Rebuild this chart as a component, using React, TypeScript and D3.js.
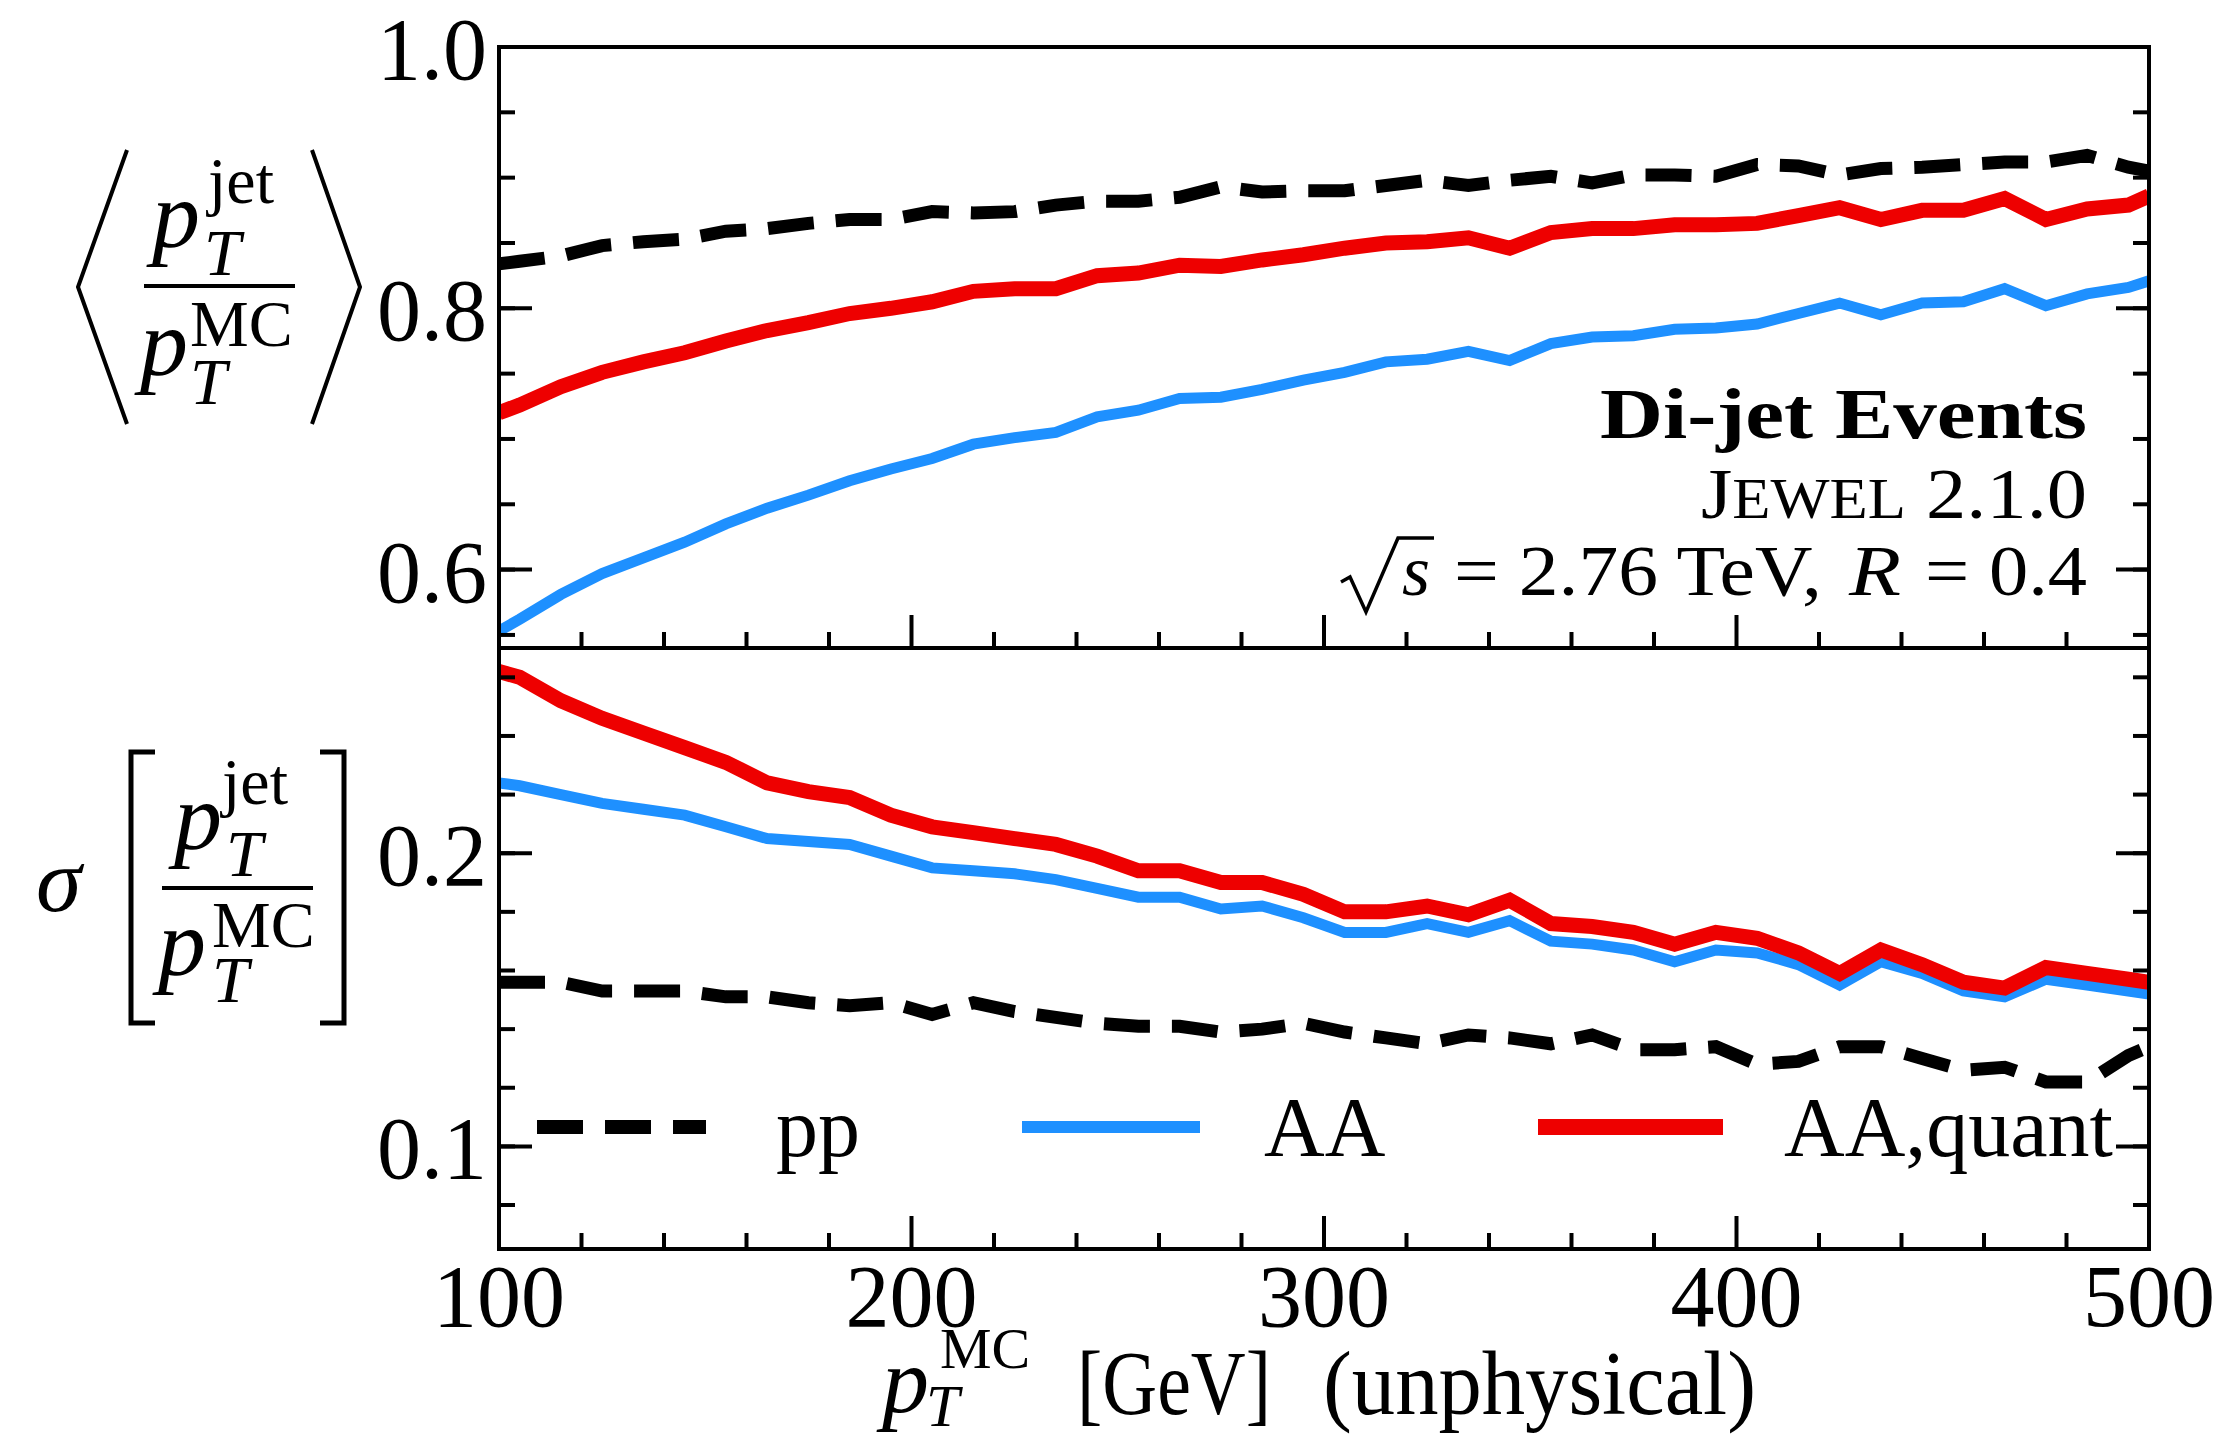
import React from "react";
import * as d3 from "d3";

// bin centres in p_T^MC (GeV); first and last entries are where the lines meet the frame
const ptMC = [
  100, 105, 115, 125, 135, 145, 155, 165, 175, 185, 195, 205, 215, 225, 235,
  245, 255, 265, 275, 285, 295, 305, 315, 325, 335, 345, 355, 365, 375, 385,
  395, 405, 415, 425, 435, 445, 455, 465, 475, 485, 495, 500,
];

// top panel: < pT_jet / pT_MC >
const meanPP = [
  0.834, 0.836, 0.84, 0.848, 0.851, 0.853, 0.859, 0.861, 0.865, 0.868, 0.868,
  0.874, 0.873, 0.874, 0.879, 0.882, 0.882, 0.885, 0.893, 0.889, 0.89, 0.89,
  0.894, 0.898, 0.894, 0.898, 0.901, 0.896, 0.902, 0.902, 0.901, 0.91, 0.909,
  0.902, 0.907, 0.908, 0.91, 0.912, 0.912, 0.917, 0.908, 0.905,
];
const meanAA = [
  0.553, 0.562, 0.581, 0.597, 0.609, 0.621, 0.635, 0.647, 0.657, 0.668, 0.677,
  0.685, 0.696, 0.701, 0.705, 0.717, 0.722, 0.731, 0.732, 0.738, 0.745, 0.751,
  0.759, 0.761, 0.767, 0.76, 0.773, 0.778, 0.779, 0.784, 0.785, 0.788, 0.796,
  0.804, 0.795, 0.804, 0.805, 0.815, 0.802, 0.811, 0.816, 0.821,
];
const meanQuant = [
  0.72, 0.726, 0.74, 0.751, 0.759, 0.766, 0.775, 0.783, 0.789, 0.796, 0.8,
  0.805, 0.813, 0.815, 0.815, 0.825, 0.827, 0.833, 0.832, 0.837, 0.841, 0.846,
  0.85, 0.851, 0.854, 0.846, 0.858, 0.861, 0.861, 0.864, 0.864, 0.865, 0.871,
  0.877, 0.868, 0.875, 0.875, 0.884, 0.868, 0.876, 0.879, 0.886,
];

// bottom panel: sigma[ pT_jet / pT_MC ]
const sigmaPP = [
  0.156, 0.156, 0.156, 0.153, 0.153, 0.153, 0.151, 0.151, 0.149, 0.148, 0.149,
  0.145, 0.149, 0.146, 0.144, 0.142, 0.141, 0.141, 0.139, 0.14, 0.142, 0.139,
  0.137, 0.135, 0.138, 0.137, 0.135, 0.138, 0.133, 0.133, 0.134, 0.128, 0.129,
  0.134, 0.134, 0.13, 0.126, 0.127, 0.122, 0.122, 0.131, 0.134,
];
const sigmaAA = [
  0.224, 0.223, 0.22, 0.217, 0.215, 0.213, 0.209, 0.205, 0.204, 0.203, 0.199,
  0.195, 0.194, 0.193, 0.191, 0.188, 0.185, 0.185, 0.181, 0.182, 0.178, 0.173,
  0.173, 0.176, 0.173, 0.177, 0.17, 0.169, 0.167, 0.163, 0.167, 0.166, 0.162,
  0.155, 0.163, 0.159, 0.153, 0.151, 0.157, 0.155, 0.153, 0.152,
];
const sigmaQuant = [
  0.262, 0.26, 0.252, 0.246, 0.241, 0.236, 0.231, 0.224, 0.221, 0.219, 0.213,
  0.209, 0.207, 0.205, 0.203, 0.199, 0.194, 0.194, 0.19, 0.19, 0.186, 0.18,
  0.18, 0.182, 0.179, 0.184, 0.176, 0.175, 0.173, 0.169, 0.173, 0.171, 0.166,
  0.159, 0.167, 0.162, 0.156, 0.154, 0.161, 0.159, 0.157, 0.156,
];

const xTickValues = [100, 200, 300, 400, 500];
const topTickValues = [0.6, 0.8, 1.0];
const topTickLabels = ["0.6", "0.8", "1.0"];
const bottomTickValues = [0.1, 0.2];
const bottomTickLabels = ["0.1", "0.2"];
const legendLabels = ["pp", "AA", "AA,quant"];

const RED = "#ee0000";
const BLUE = "#1e90ff";
const FONT = "'Liberation Serif', 'DejaVu Serif', serif";

const W = 2223;
const H = 1446;
const left = 499;
const right = 2149;
const top = 47;
const mid = 648;
const bottom = 1249;
const majorLen = 33;
const minorLen = 16;

const x = d3.scaleLinear().domain([100, 500]).range([left, right]);
const yTop = d3.scaleLinear().domain([0.54, 1.0]).range([mid, top]);
const yBot = d3.scaleLinear().domain([0.065, 0.27]).range([bottom, mid]);

const series = [
  { label: legendLabels[0], top: meanPP, bot: sigmaPP, color: "#000", width: 13, dash: "46 22" },
  { label: legendLabels[1], top: meanAA, bot: sigmaAA, color: BLUE, width: 11, dash: undefined },
  { label: legendLabels[2], top: meanQuant, bot: sigmaQuant, color: RED, width: 15, dash: undefined },
];

function Panel({ y, y0, y1, vals, clipId, minor, majors, labels }) {
  const line = d3
    .line<number>()
    .x((_, i) => x(ptMC[i]))
    .y((d) => y(d));
  const xMinor = d3.range(120, 500, 20).filter((v) => v % 100 !== 0);
  return (
    <g>
      <clipPath id={clipId}>
        <rect x={left} y={y0} width={right - left} height={y1 - y0} />
      </clipPath>
      <g clipPath={`url(#${clipId})`}>
        {series.map((s) => (
          <path
            key={s.label}
            d={line(vals(s)) || ""}
            fill="none"
            stroke={s.color}
            strokeWidth={s.width}
            strokeDasharray={s.dash}
          />
        ))}
      </g>
      {/* ticks, all pointing inward */}
      {xMinor.map((v) => (
        <line key={"xm" + v} x1={x(v)} x2={x(v)} y1={y1} y2={y1 - minorLen} stroke="#000" strokeWidth={4} />
      ))}
      {xTickValues.map((v) => (
        <line key={"xM" + v} x1={x(v)} x2={x(v)} y1={y1} y2={y1 - majorLen} stroke="#000" strokeWidth={4} />
      ))}
      {minor.map((v) => (
        <g key={"ym" + v}>
          <line x1={left} x2={left + minorLen} y1={y(v)} y2={y(v)} stroke="#000" strokeWidth={4} />
          <line x1={right} x2={right - minorLen} y1={y(v)} y2={y(v)} stroke="#000" strokeWidth={4} />
        </g>
      ))}
      {majors.map((v, i) => (
        <g key={"yM" + v}>
          <line x1={left} x2={left + majorLen} y1={y(v)} y2={y(v)} stroke="#000" strokeWidth={4} />
          <line x1={right} x2={right - majorLen} y1={y(v)} y2={y(v)} stroke="#000" strokeWidth={4} />
          <text x={487} y={y(v) + 32} fontSize={88} textAnchor="end">
            {labels[i]}
          </text>
        </g>
      ))}
      <rect x={left} y={y0} width={right - left} height={y1 - y0} fill="none" stroke="#000" strokeWidth={4} />
    </g>
  );
}

export default function App() {
  const topMinor = d3.range(0.55, 0.999, 0.05).map((v) => +v.toFixed(2));
  const botMinor = d3.range(0.08, 0.27, 0.02).map((v) => +v.toFixed(2));
  const legendY = 1127;
  const legendX = [
    [537, 706, 776],
    [1022, 1200, 1264],
    [1538, 1723, 1784],
  ];

  return (
    <svg
      width={W}
      height={H}
      style={{ position: "absolute", left: 0, top: 0, background: "#fff" }}
      fontFamily={FONT}
    >
      <rect width={W} height={H} fill="#fff" />

      <Panel
        y={yTop}
        y0={top}
        y1={mid}
        vals={(s) => s.top}
        clipId="clipTop"
        minor={topMinor}
        majors={topTickValues}
        labels={topTickLabels}
      />
      <Panel
        y={yBot}
        y0={mid}
        y1={bottom}
        vals={(s) => s.bot}
        clipId="clipBot"
        minor={botMinor}
        majors={bottomTickValues}
        labels={bottomTickLabels}
      />

      {/* x tick labels */}
      {xTickValues.map((v) => (
        <text key={v} x={x(v)} y={1326} fontSize={88} textAnchor="middle">
          {v}
        </text>
      ))}

      {/* x axis title */}
      <text x={882} y={1412} fontSize={94} fontStyle="italic">p</text>
      <text x={926} y={1426} fontSize={60} fontStyle="italic">T</text>
      <text x={940} y={1368} fontSize={58}>MC</text>
      <text x={1077} y={1414} fontSize={90} textLength={194} lengthAdjust="spacingAndGlyphs">
        [GeV]
      </text>
      <text x={1323} y={1414} fontSize={90} textLength={433} lengthAdjust="spacingAndGlyphs">
        (unphysical)
      </text>

      {/* top y label: < pT_jet / pT_MC > */}
      <path d="M127,150 L78,287 L127,424" fill="none" stroke="#000" strokeWidth={4} />
      <path d="M312,150 L360,287 L312,424" fill="none" stroke="#000" strokeWidth={4} />
      <line x1={144} x2={295} y1={286} y2={286} stroke="#000" strokeWidth={4} />
      <text x={152} y={247} fontSize={96} fontStyle="italic">p</text>
      <text x={204} y={275} fontSize={66} fontStyle="italic">T</text>
      <text x={208} y={203} fontSize={66}>jet</text>
      <text x={140} y={375} fontSize={96} fontStyle="italic">p</text>
      <text x={190} y={346} fontSize={66}>MC</text>
      <text x={190} y={404} fontSize={66} fontStyle="italic">T</text>

      {/* bottom y label: sigma [ pT_jet / pT_MC ] */}
      <text x={36} y={911} fontSize={92} fontStyle="italic">σ</text>
      <path d="M155,752 L131,752 L131,1023 L155,1023" fill="none" stroke="#000" strokeWidth={5} />
      <path d="M320,752 L344,752 L344,1023 L320,1023" fill="none" stroke="#000" strokeWidth={5} />
      <line x1={162} x2={313} y1={888} y2={888} stroke="#000" strokeWidth={4} />
      <text x={174} y={849} fontSize={96} fontStyle="italic">p</text>
      <text x={226} y={876} fontSize={66} fontStyle="italic">T</text>
      <text x={222} y={804} fontSize={66}>jet</text>
      <text x={158} y={975} fontSize={96} fontStyle="italic">p</text>
      <text x={212} y={947} fontSize={66}>MC</text>
      <text x={212} y={1002} fontSize={66} fontStyle="italic">T</text>

      {/* annotation */}
      <text x={1600} y={438} fontSize={72} fontWeight="bold" textLength={487} lengthAdjust="spacingAndGlyphs">
        Di-jet Events
      </text>
      <text x={1701} y={518} fontSize={72} textLength={386} lengthAdjust="spacingAndGlyphs">
        J<tspan fontSize={56}>EWEL</tspan> 2.1.0
      </text>
      <path d="M1341,582 L1350,577 L1366,612 L1398,538 L1434,538" fill="none" stroke="#000" strokeWidth={3.5} />
      <text x={1402} y={595} fontSize={72} fontStyle="italic">s</text>
      <text x={1454} y={595} fontSize={72} textLength={368} lengthAdjust="spacingAndGlyphs">
        = 2.76 TeV,
      </text>
      <text x={1849} y={595} fontSize={72} fontStyle="italic" textLength={52} lengthAdjust="spacingAndGlyphs">
        R
      </text>
      <text x={1925} y={595} fontSize={72} textLength={162} lengthAdjust="spacingAndGlyphs">
        = 0.4
      </text>

      {/* legend */}
      {series.map((s, i) => (
        <g key={s.label}>
          <line
            x1={legendX[i][0]}
            x2={legendX[i][1]}
            y1={legendY}
            y2={legendY}
            stroke={s.color}
            strokeWidth={s.width + 1}
            strokeDasharray={s.dash}
          />
          <text x={legendX[i][2]} y={1156} fontSize={84}>
            {s.label}
          </text>
        </g>
      ))}
    </svg>
  );
}
